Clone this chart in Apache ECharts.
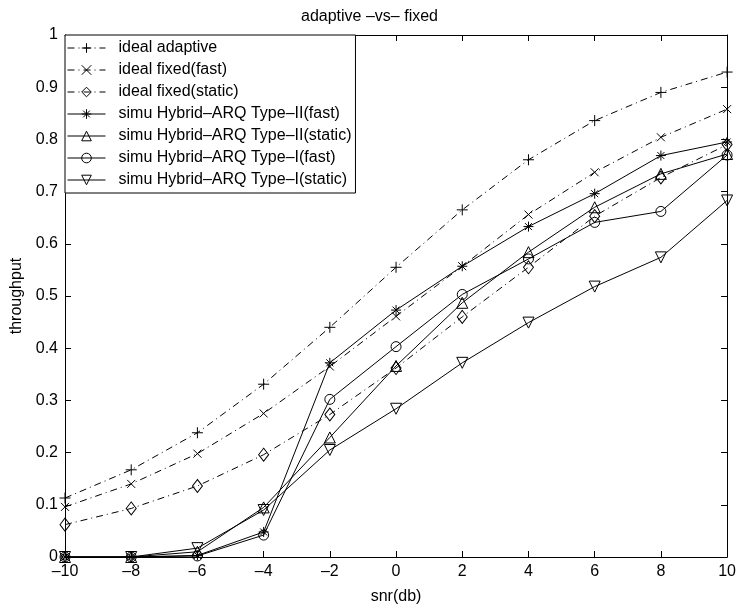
<!DOCTYPE html>
<html>
<head>
<meta charset="utf-8">
<script src="https://cdn.jsdelivr.net/npm/echarts@6/dist/echarts.min.js"></script>
<style>
html,body{margin:0;padding:0;background:#fff;}
#chart{width:739px;height:610px;}
</style>
</head>
<body>
<div id="chart"></div>
<script>
// ---- data ----
var snr = [-10, -8, -6, -4, -2, 0, 2, 4, 6, 8, 10];
var idealAdaptive = [0.113, 0.167, 0.238, 0.331, 0.440, 0.555, 0.665, 0.761, 0.836, 0.890, 0.929];
var idealFixedFast = [0.096, 0.140, 0.198, 0.275, 0.365, 0.461, 0.557, 0.656, 0.737, 0.804, 0.858];
var idealFixedStatic = [0.062, 0.093, 0.136, 0.196, 0.273, 0.362, 0.460, 0.555, 0.653, 0.727, 0.790];
var hybrid2Fast = [0, 0, 0.003, 0.048, 0.372, 0.473, 0.557, 0.633, 0.696, 0.769, 0.795];
var hybrid2Static = [0, 0, 0.010, 0.095, 0.229, 0.366, 0.487, 0.584, 0.670, 0.734, 0.772];
var hybrid1Fast = [0, 0, 0.002, 0.042, 0.302, 0.403, 0.503, 0.571, 0.641, 0.662, 0.770];
var hybrid1Static = [0, 0, 0.017, 0.090, 0.205, 0.284, 0.372, 0.449, 0.518, 0.574, 0.683];
var seriesNames = [
  'ideal adaptive',
  'ideal fixed(fast)',
  'ideal fixed(static)',
  'simu Hybrid\u2013ARQ Type\u2013II(fast)',
  'simu Hybrid\u2013ARQ Type\u2013II(static)',
  'simu Hybrid\u2013ARQ Type\u2013I(fast)',
  'simu Hybrid\u2013ARQ Type\u2013I(static)'
];
var xTicks = [-10, -8, -6, -4, -2, 0, 2, 4, 6, 8, 10];
var yTicks = [0, 0.1, 0.2, 0.3, 0.4, 0.5, 0.6, 0.7, 0.8, 0.9, 1];

var FONT = 'Liberation Sans, Arial, Helvetica, sans-serif';
var PLUS = 'path://M5,0L5,10M0,5L10,5';
var CROSS = 'path://M0,0L10,10M10,0L0,10';
var STAR = 'path://M5,0L5,10M0,5L10,5M1.5,1.5L8.5,8.5M8.5,1.5L1.5,8.5';
var DASHDOT = [7, 4, 1, 4];

function pairs(ys){ return snr.map(function(x,i){ return [x, ys[i]]; }); }
function mk(name, ys, symbol, size, dash, rotate){
  return {
    name: name, type: 'line', data: pairs(ys),
    symbol: symbol, symbolSize: size, symbolRotate: rotate || 0,
    showAllSymbol: true,
    lineStyle: { color: '#000', width: 1, type: dash ? DASHDOT : 'solid' },
    itemStyle: { color: 'rgba(255,255,255,0)', borderColor: '#000', borderWidth: 1 },
    emphasis: { disabled: true },
    animation: false,
    z: 2
  };
}

var chart = echarts.init(document.getElementById('chart'), null, { renderer: 'canvas' });
function fmtX(v){ return String(v).replace('-', '\u2013'); }
var tickStyle = { show: true, inside: true, length: 6, lineStyle: { color: '#000', width: 1 } };
var lineStyleAx = { show: true, onZero: false, lineStyle: { color: '#000', width: 1 } };
var option = {
  backgroundColor: '#fff',
  animation: false,
  title: {
    text: 'adaptive \u2013vs\u2013 fixed', left: 'center', top: 4,
    textStyle: { fontFamily: FONT, fontSize: 16, fontWeight: 'normal', color: '#000' }
  },
  grid: { left: 65, right: 9, top: 35, bottom: 52, containLabel: false },
  legend: {
    data: seriesNames, orient: 'vertical', left: 65, top: 35,
    backgroundColor: '#fff', borderColor: '#000', borderWidth: 1,
    padding: [5, 4, 5, 2], itemGap: 6, itemWidth: 38, itemHeight: 12,
    textStyle: { fontFamily: FONT, fontSize: 16, color: '#000', padding: [0, 0, 0, 8] },
    lineStyle: { width: 1, color: '#000' },
    itemStyle: { borderWidth: 1, borderColor: '#000', color: 'rgba(255,255,255,0)' },
    selectedMode: false
  },
  xAxis: [
    {
      type: 'value', min: -10, max: 10, interval: 2,
      name: 'snr(db)', nameLocation: 'middle', nameGap: 32,
      nameTextStyle: { fontFamily: FONT, fontSize: 16, color: '#000' },
      axisLine: lineStyleAx, axisTick: tickStyle,
      axisLabel: { fontFamily: FONT, fontSize: 16, color: '#000', margin: 7, formatter: fmtX },
      splitLine: { show: false }
    },
    {
      type: 'value', min: -10, max: 10, interval: 2, position: 'top',
      axisLine: lineStyleAx, axisTick: tickStyle,
      axisLabel: { show: false }, splitLine: { show: false }
    }
  ],
  yAxis: [
    {
      type: 'value', min: 0, max: 1, interval: 0.1, position: 'left',
      name: 'throughput', nameLocation: 'middle', nameGap: 40,
      nameTextStyle: { fontFamily: FONT, fontSize: 16, color: '#000' },
      axisLine: lineStyleAx, axisTick: tickStyle,
      axisLabel: { fontFamily: FONT, fontSize: 16, color: '#000', margin: 7 },
      splitLine: { show: false }
    },
    {
      type: 'value', min: 0, max: 1, interval: 0.1, position: 'right',
      axisLine: lineStyleAx, axisTick: tickStyle,
      axisLabel: { show: false }, splitLine: { show: false }
    }
  ],
  series: [
    mk(seriesNames[0], idealAdaptive, PLUS, 11, true),
    mk(seriesNames[1], idealFixedFast, CROSS, 8, true),
    mk(seriesNames[2], idealFixedStatic, 'diamond', [10, 13], true),
    mk(seriesNames[3], hybrid2Fast, STAR, 10, false),
    mk(seriesNames[4], hybrid2Static, 'triangle', 11, false),
    mk(seriesNames[5], hybrid1Fast, 'circle', 10, false),
    mk(seriesNames[6], hybrid1Static, 'triangle', 11, false, 180)
  ]
};
chart.setOption(option);
</script>
</body>
</html>
